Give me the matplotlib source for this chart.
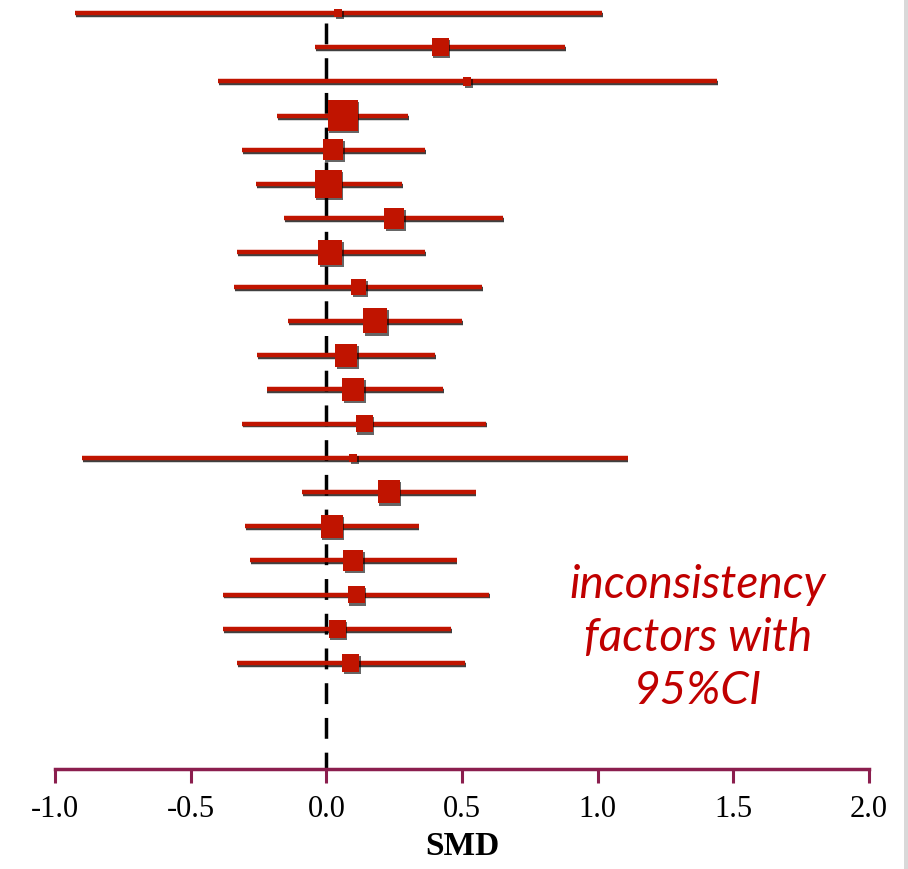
import matplotlib.pyplot as plt
import matplotlib.patheffects as pe
from matplotlib.patches import Rectangle

# forest plot values (SMD with 95% CI), top row first
smd = [0.044, 0.42, 0.52, 0.06, 0.026, 0.007, 0.25, 0.015, 0.12, 0.18,
       0.074, 0.10, 0.14, 0.10, 0.23, 0.02, 0.10, 0.11, 0.04, 0.09]
lower = [-0.925, -0.04, -0.40, -0.18, -0.31, -0.26, -0.155, -0.33, -0.34, -0.14,
         -0.255, -0.22, -0.31, -0.90, -0.09, -0.30, -0.28, -0.38, -0.38, -0.33]
upper = [1.017, 0.88, 1.44, 0.30, 0.365, 0.28, 0.65, 0.365, 0.575, 0.50,
         0.40, 0.43, 0.59, 1.11, 0.55, 0.34, 0.48, 0.60, 0.46, 0.51]
# box sizes (relative weight, in pixels)
weight = [8, 17, 8, 30, 20, 27, 20, 24, 15, 24,
          22, 22, 17, 8, 22, 22, 20, 17, 17, 17]
xticks = [-1.0, -0.5, 0.0, 0.5, 1.0, 1.5, 2.0]

red = '#c01400'
axis_col = '#8b1e4e'

fig = plt.figure(figsize=(9.08, 8.70), dpi=100)
ax = fig.add_axes([55 / 908, 100 / 870, (869 - 55) / 908, 770 / 870])
ax.set_xlim(-1.0, 2.0)
ax.set_ylim(23.1, 0.59)

rows = list(range(1, len(smd) + 1))

# reference line at zero
ax.plot([0, 0], [1.3, 23.1], color='black', lw=2.5, ls=(0, (6, 4)), zorder=1)

shadow = [pe.SimpleLineShadow(offset=(0.6, -1.4), shadow_color='black', alpha=0.75),
          pe.Normal()]
for y, lo, hi in zip(rows, lower, upper):
    ax.plot([lo, hi], [y, y], color=red, lw=3.2, solid_capstyle='butt',
            path_effects=shadow, zorder=2)

# boxes sized in pixels -> data units
px_x = 3.0 / (869 - 55)
px_y = (23.1 - 0.59) / 770
for y, m, w in zip(rows, smd, weight):
    bw = w * px_x
    bh = w * 1.05 * px_y
    ax.add_patch(Rectangle((m - bw / 2, y - bh / 2), bw, bh, facecolor=red,
                           edgecolor='none', zorder=3,
                           path_effects=[pe.SimplePatchShadow(offset=(1, -1.5), shadow_rgbFace='black', alpha=0.6),
                                         pe.Normal()]))

for s in ['top', 'right', 'left']:
    ax.spines[s].set_visible(False)
ax.spines['bottom'].set_color(axis_col)
ax.spines['bottom'].set_linewidth(2.5)
ax.set_yticks([])
ax.set_xticks(xticks)
ax.set_xticklabels(['%.1f' % t for t in xticks], family='Liberation Serif', fontsize=22)
ax.tick_params(axis='x', direction='out', length=10, width=2.2, color=axis_col, pad=8)
ax.set_xlabel('SMD', family='Liberation Serif', fontsize=24, fontweight='bold', labelpad=5)

fig.text(698 / 908, 1 - 638 / 870, 'inconsistency\nfactors with\n95%CI', color='#c00000',
         family='Lato', style='italic', fontsize=33, ha='center', va='center',
         linespacing=1.33)

# grey strip at right edge
fig.add_artist(Rectangle((904 / 908, 0), 4 / 908, 1, transform=fig.transFigure,
                         facecolor='#d9d9d9', edgecolor='none'))

fig.savefig('out.png', dpi=100)
